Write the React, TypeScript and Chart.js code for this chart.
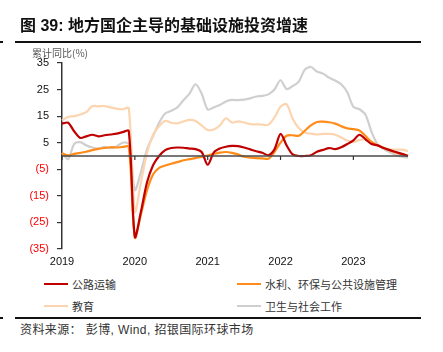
import React, { useEffect, useRef } from "react";
import { Chart, registerables } from "chart.js";

Chart.register(...registerables);

const years = ["2019", "2020", "2021", "2022", "2023"];
const months = ["01", "02", "03", "04", "05", "06", "07", "08", "09", "10", "11", "12"];
const categories: string[] = [];
for (const y of years) for (const m of months) categories.push(`${y}-${m}`);
const labels = categories.slice(0, 58);

const seriesNames = ["公路运输", "水利、环保与公共设施管理", "教育", "卫生与社会工作"];
const seriesColors = ["#C00000", "#FF8C1A", "#FCD5B0", "#CFCFCF"];

const highway = [
  12.2, 12.5, 9.3, 6.8, 7.4, 8.0, 7.4, 7.8, 8.1, 8.4, 9.0, 9.4,
  -30.4, -21.0, -10.0, -3.5, 0.0, 2.2, 3.0, 3.2, 3.1, 2.8, 2.6, 1.5,
  -3.3, 1.3, 2.8, 3.5, 3.8, 3.7, 3.2, 2.5, 1.8, 1.2, 0.3, 2.5,
  8.3, 4.0, 0.6, 0.0, 0.0, 0.3, 1.6, 2.3, 3.0, 2.6, 3.3, 4.5,
  5.9, 8.0, 6.3, 4.5, 4.0, 3.0, 2.2, 1.5, 0.8, 0.0,
];

const water = [
  1.0, 0.2, 0.8, 1.2, 1.6, 2.2, 2.7, 3.0, 3.3, 3.2, 3.4, 3.4,
  -30.7, -22.0, -13.0, -7.0, -4.5, -3.6, -2.9, -2.3, -1.6, -1.2, -0.8, -0.3,
  0.2, 0.8, 1.3, 1.5, 1.2, 0.6, -0.3, -0.6, -0.8, -0.9, -1.0, 1.5,
  5.0, 7.6, 7.8, 7.6, 9.5, 11.5, 12.8, 12.9, 12.7, 12.2, 11.2, 10.4,
  10.1, 9.6, 7.5, 5.3, 4.0, 3.1, 2.2, 1.3, 0.6, 0.1,
];

const education = [
  13.4, 14.7, 15.0, 15.6, 16.5, 18.8, 18.7, 18.8, 18.3, 17.8, 17.6, 18.0,
  -21.0, -10.0, 1.0, 8.0, 11.2, 13.2, 12.5, 12.3, 13.0, 13.6, 13.2, 11.5,
  9.8, 10.0, 11.5, 14.2, 12.6, 13.0, 12.6, 12.0, 11.9, 11.8, 11.8, 14.5,
  18.5, 19.5, 14.0, 10.5, 8.8, 8.4, 8.1, 8.3, 8.3, 8.0, 7.0, 5.8,
  5.2, 6.0, 6.3, 5.2, 4.1, 3.0, 2.5, 2.4, 2.4, 1.8,
];

const health = [
  1.2, -1.2, 4.5, 5.2, 4.0, 3.2, 2.8, 3.4, 3.0, 3.6, 5.0, 4.5,
  -12.8, -6.0, 2.5, 7.5, 12.5, 16.0, 17.0, 18.3, 21.0, 23.5, 27.0, 23.5,
  17.5, 18.3, 19.2, 20.5, 21.1, 21.0, 21.2, 21.7, 22.4, 22.6, 23.2, 25.0,
  28.5, 25.2, 26.3, 28.0, 32.5, 33.5, 31.8, 31.0, 29.5, 28.4, 27.0, 24.0,
  18.5, 17.6, 15.5, 9.0, 4.3, 2.6, 1.4, 0.4, -0.3, -0.6,
];

const seriesData = [highway, water, education, health];

const yMin = -35;
const yMax = 35;
const yStep = 10;

const zeroLinePlugin = {
  id: "zeroLine",
  afterDatasetsDraw(chart: any) {
    const { ctx, chartArea, scales } = chart;
    const y0 = scales.y.getPixelForValue(0);
    ctx.save();
    ctx.strokeStyle = "#4a4a4a";
    ctx.lineWidth = 1.6;
    ctx.beginPath();
    ctx.moveTo(chartArea.left, y0);
    ctx.lineTo(chartArea.right, y0);
    ctx.stroke();
    ctx.lineWidth = 1.2;
    ctx.strokeStyle = "#333";
    labels.forEach((l, i) => {
      if (l.endsWith("-01")) {
        const x = scales.x.getPixelForValue(i);
        ctx.beginPath();
        ctx.moveTo(x, y0);
        ctx.lineTo(x, y0 + 4);
        ctx.stroke();
      }
    });
    ctx.restore();
  },
};

const cjk = '"Liberation Sans", Arial, "Noto Sans CJK SC", sans-serif';

function ChartCanvas() {
  const ref = useRef<HTMLCanvasElement | null>(null);
  useEffect(() => {
    if (!ref.current) return;
    const chart = new Chart(ref.current, {
      type: "line",
      data: {
        labels,
        datasets: seriesNames.map((name, k) => ({
          label: name,
          data: seriesData[k],
          borderColor: seriesColors[k],
          backgroundColor: seriesColors[k],
          borderWidth: 2.2,
          pointRadius: 0,
          tension: 0.3,
          fill: false,
        })),
      },
      options: {
        responsive: false,
        animation: false,
        layout: { padding: { left: 0, right: 35, top: 63, bottom: 0 } },
        plugins: { legend: { display: false }, tooltip: { enabled: false } },
        scales: {
          x: {
            type: "category",
            offset: false,
            grid: { display: false, drawTicks: false },
            border: { display: false },
            afterFit: (s: any) => {
              s.height = 26;
            },
            ticks: {
              autoSkip: false,
              maxRotation: 0,
              minRotation: 0,
              padding: 6,
              color: "#111",
              font: { family: cjk, size: 11 },
              callback: (_v: any, i: number) => (labels[i].endsWith("-01") ? labels[i].slice(0, 4) : ""),
            },
          },
          y: {
            min: yMin,
            max: yMax,
            afterFit: (s: any) => {
              s.width = 62;
            },
            grid: { display: true, drawOnChartArea: false, drawTicks: true, tickLength: 5, color: "#333", lineWidth: 1.2 },
            border: { display: true, color: "#333", width: 1.5 },
            ticks: {
              stepSize: yStep,
              padding: 8,
              font: { family: cjk, size: 11 },
              color: (c: any) => (c.tick && c.tick.value < 0 ? "#FF0000" : "#111"),
              callback: (v: any) => (v < 0 ? `(${-v})` : `${v}`),
            },
          },
        },
      },
      plugins: [zeroLinePlugin],
    });
    return () => chart.destroy();
  }, []);
  return <canvas ref={ref} width={443} height={275} style={{ position: "absolute", left: 0, top: 0, width: 443, height: 275 }} />;
}

export default function App() {
  const legendItem = (k: number, left: number, top: number) => (
    <div key={k} style={{ position: "absolute", left, top, height: 14, display: "flex", alignItems: "center" }}>
      <div style={{ width: 24, height: 2, background: seriesColors[k] }} />
      <span style={{ marginLeft: 4, fontSize: 11, color: "#333", fontFamily: '"Noto Sans CJK SC", sans-serif', whiteSpace: "nowrap", lineHeight: "14px" }}>
        {seriesNames[k]}
      </span>
    </div>
  );
  return (
    <div style={{ position: "absolute", left: 0, top: 0, width: 443, height: 352, background: "#fff", overflow: "hidden" }}>
      <ChartCanvas />
      <div
        style={{
          position: "absolute",
          left: 20,
          top: 17,
          fontSize: 16,
          fontWeight: "bold",
          color: "#111",
          fontFamily: '"Liberation Sans", Arial, "Noto Sans CJK SC", sans-serif',
          whiteSpace: "nowrap",
          lineHeight: "18px",
        }}
      >
        图 39: 地方国企主导的基础设施投资增速
      </div>
      <div style={{ position: "absolute", left: 15, top: 40.5, width: 406, height: 2.5, background: "#111" }} />
      <div style={{ position: "absolute", left: 0, top: 41, width: 3, height: 2, background: "#111" }} />
      <div
        style={{
          position: "absolute",
          left: 32,
          top: 47,
          fontSize: 10,
          color: "#555",
          fontFamily: '"Noto Sans CJK SC", sans-serif',
          whiteSpace: "nowrap",
          lineHeight: "12px",
        }}
      >
        累计同比(%)
      </div>
      {legendItem(0, 44, 277)}
      {legendItem(1, 237, 277)}
      {legendItem(2, 44, 299)}
      {legendItem(3, 237, 299)}
      <div style={{ position: "absolute", left: 15, top: 316.5, width: 406, height: 2.5, background: "#111" }} />
      <div style={{ position: "absolute", left: 0, top: 317, width: 3, height: 2, background: "#111" }} />
      <div
        style={{
          position: "absolute",
          left: 20,
          top: 323,
          fontSize: 12,
          letterSpacing: 0.4,
          color: "#333",
          fontFamily: '"Liberation Sans", Arial, "Noto Sans CJK SC", sans-serif',
          whiteSpace: "nowrap",
          lineHeight: "15px",
        }}
      >
        资料来源： 彭博, Wind, 招银国际环球市场
      </div>
    </div>
  );
}
